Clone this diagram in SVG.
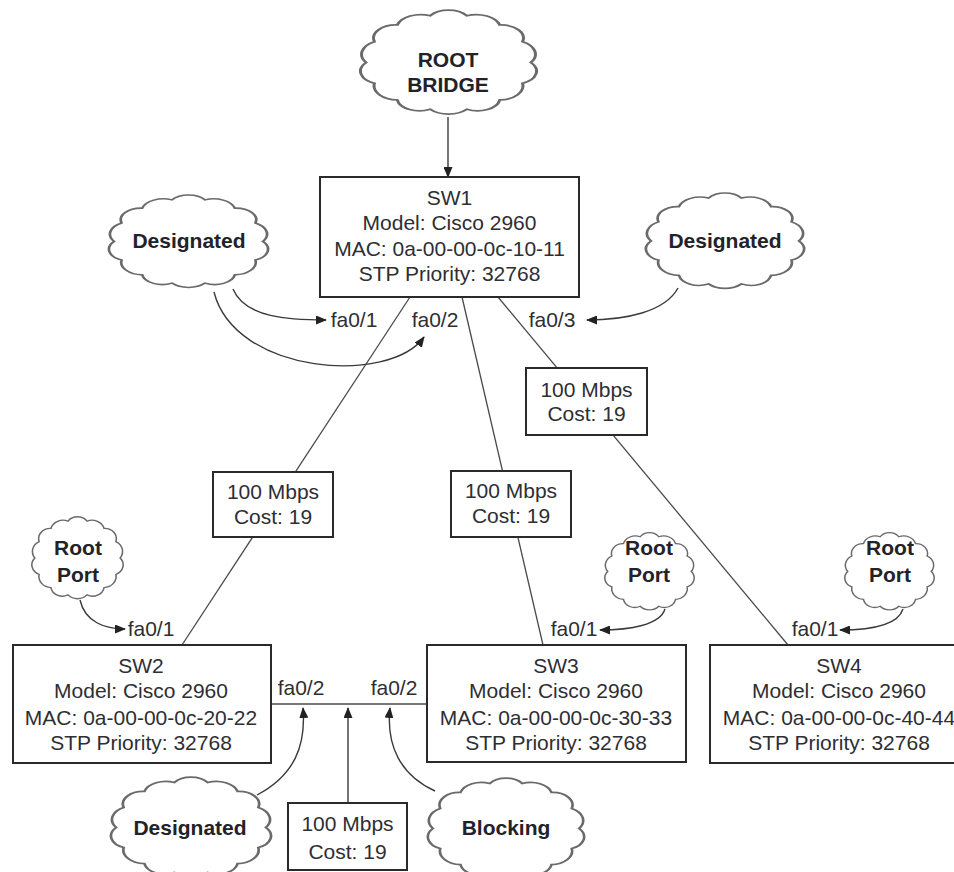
<svg xmlns="http://www.w3.org/2000/svg" xmlns:xlink="http://www.w3.org/1999/xlink" width="954" height="872" viewBox="0 0 954 872">
<style>
.bg{fill:#ffffff}
.cloud{fill:#ffffff;stroke:#6a6a6a;stroke-width:1.6;vector-effect:non-scaling-stroke}
.box{fill:#ffffff;stroke:#2a2a2a;stroke-width:2}
.link{fill:none;stroke:#4a4a4a;stroke-width:1.3}
.arrow{fill:none;stroke:#3a3a3a;stroke-width:1.4;marker-end:url(#ah)}
.t{font-family:"Liberation Sans",Arial,sans-serif;font-size:21px;fill:#2e2e33;text-anchor:middle}
.b{font-family:"Liberation Sans",Arial,sans-serif;font-size:21px;font-weight:bold;fill:#222228;text-anchor:middle}
</style>
<defs>
<marker id="ah" markerUnits="userSpaceOnUse" markerWidth="11" markerHeight="9" refX="10" refY="4.5" orient="auto">
<path d="M0,0 L11,4.5 L0,9 Z" fill="#222"/>
</marker>
<path id="cloudshape" d="M94,50 A12,12 0 0,1 89.6,69.1 A13,13 0 0,1 77.4,84.4 A12,12 0 0,1 59.8,92.9 A13,13 0 0,1 40.2,92.9 A12,12 0 0,1 22.6,84.4 A13,13 0 0,1 10.4,69.1 A12,12 0 0,1 6,50 A13,13 0 0,1 10.4,30.9 A12,12 0 0,1 22.6,15.6 A13,13 0 0,1 40.2,7.1 A12,12 0 0,1 59.8,7.1 A13,13 0 0,1 77.4,15.6 A12,12 0 0,1 89.6,30.9 A13,13 0 0,1 94,50 Z"/>
</defs>
<rect class="bg" x="0" y="0" width="954" height="872"/>

<g id="connectors">
<line class="link" x1="410" y1="297" x2="182" y2="645"/>
<line class="link" x1="462" y1="297" x2="543" y2="645"/>
<line class="link" x1="498" y1="297" x2="788" y2="645"/>
<line class="link" x1="271" y1="704" x2="427" y2="704"/>
<line class="arrow" x1="448" y1="117" x2="448" y2="177"/>
<path class="arrow" d="M233,289 C245,318 290,320 326,320"/>
<path class="arrow" d="M214,292 C235,375 390,385 424,337"/>
<path class="arrow" d="M678,288 C665,312 625,320 587,320"/>
<path class="arrow" d="M80,600 C85,622 105,629 125,629"/>
<path class="arrow" d="M665,609 C660,625 630,630 600,630"/>
<path class="arrow" d="M903,609 C898,625 870,630 840,630"/>
<path class="arrow" d="M257,795 C295,775 306,745 303,708"/>
<path class="arrow" d="M348,803 L348,708"/>
<path class="arrow" d="M435,791 C400,775 386,745 390,708"/>
</g>

<g id="root-bridge">
<use href="#cloudshape" class="cloud" transform="translate(355,8) scale(1.87,1.09)"/>
<text class="b" x="448" y="67">ROOT</text>
<text class="b" x="448" y="92">BRIDGE</text>
</g>

<g id="sw1">
<rect class="box" x="320" y="177" width="259" height="120"/>
<text class="t" x="449.5" y="205">SW1</text>
<text class="t" x="449.5" y="230">Model: Cisco 2960</text>
<text class="t" x="449.5" y="256">MAC: 0a-00-00-0c-10-11</text>
<text class="t" x="449.5" y="281">STP Priority: 32768</text>
</g>

<g id="sw1-ports">
<text class="t" x="354" y="327">fa0/1</text>
<text class="t" x="435" y="327">fa0/2</text>
<text class="t" x="552" y="327">fa0/3</text>
</g>

<g id="designated-left">
<use href="#cloudshape" class="cloud" transform="translate(104,193) scale(1.69,0.97)"/>
<text class="b" x="189" y="248">Designated</text>
</g>

<g id="designated-right">
<use href="#cloudshape" class="cloud" transform="translate(641,191) scale(1.68,1.0)"/>
<text class="b" x="725" y="248">Designated</text>
</g>

<g id="link-sw1-sw4">
<rect class="box" x="526" y="368" width="121" height="67"/>
<text class="t" x="586.5" y="397">100 Mbps</text>
<text class="t" x="586.5" y="421">Cost: 19</text>
</g>

<g id="link-sw1-sw2">
<rect class="box" x="213" y="472" width="120" height="65"/>
<text class="t" x="273" y="499">100 Mbps</text>
<text class="t" x="273" y="524">Cost: 19</text>
</g>

<g id="link-sw1-sw3">
<rect class="box" x="451" y="471" width="120" height="66"/>
<text class="t" x="511" y="498">100 Mbps</text>
<text class="t" x="511" y="523">Cost: 19</text>
</g>

<g id="rootport-sw2">
<use href="#cloudshape" class="cloud" transform="translate(29,515) scale(0.97,0.86)"/>
<text class="b" x="78" y="555">Root</text>
<text class="b" x="78" y="582">Port</text>
<text class="t" x="151" y="636">fa0/1</text>
</g>

<g id="rootport-sw3">
<use href="#cloudshape" class="cloud" transform="translate(602,531) scale(0.95,0.81)"/>
<text class="b" x="649" y="555">Root</text>
<text class="b" x="649" y="582">Port</text>
<text class="t" x="574" y="636">fa0/1</text>
</g>

<g id="rootport-sw4">
<use href="#cloudshape" class="cloud" transform="translate(842,531) scale(0.95,0.81)"/>
<text class="b" x="890" y="555">Root</text>
<text class="b" x="890" y="582">Port</text>
<text class="t" x="815" y="636">fa0/1</text>
</g>

<g id="sw2">
<rect class="box" x="13" y="645" width="258" height="118"/>
<text class="t" x="141" y="673">SW2</text>
<text class="t" x="141" y="698">Model: Cisco 2960</text>
<text class="t" x="141" y="725">MAC: 0a-00-00-0c-20-22</text>
<text class="t" x="141" y="750">STP Priority: 32768</text>
</g>

<g id="sw2-sw3-ports">
<text class="t" x="301" y="695">fa0/2</text>
<text class="t" x="394" y="695">fa0/2</text>
</g>

<g id="sw3">
<rect class="box" x="427" y="645" width="259" height="117"/>
<text class="t" x="556" y="673">SW3</text>
<text class="t" x="556" y="698">Model: Cisco 2960</text>
<text class="t" x="556" y="725">MAC: 0a-00-00-0c-30-33</text>
<text class="t" x="556" y="750">STP Priority: 32768</text>
</g>

<g id="sw4">
<rect class="box" x="710" y="645" width="258" height="118"/>
<text class="t" x="839" y="673">SW4</text>
<text class="t" x="839" y="698">Model: Cisco 2960</text>
<text class="t" x="839" y="725">MAC: 0a-00-00-0c-40-44</text>
<text class="t" x="839" y="750">STP Priority: 32768</text>
</g>

<g id="designated-bottom">
<use href="#cloudshape" class="cloud" transform="translate(106,775) scale(1.7,1.05)"/>
<text class="b" x="190" y="835">Designated</text>
</g>

<g id="link-sw2-sw3">
<rect class="box" x="288" y="803" width="119" height="67"/>
<text class="t" x="347.5" y="831">100 Mbps</text>
<text class="t" x="347.5" y="859">Cost: 19</text>
</g>

<g id="blocking">
<use href="#cloudshape" class="cloud" transform="translate(423,776) scale(1.66,1.05)"/>
<text class="b" x="506" y="835">Blocking</text>
</g>
</svg>
